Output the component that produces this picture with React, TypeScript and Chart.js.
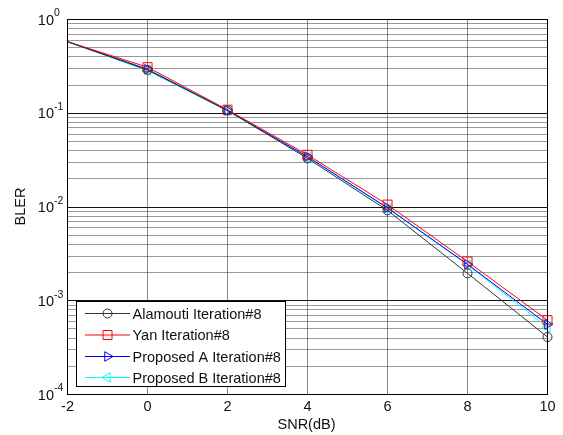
import React, { useEffect, useRef } from 'react';
import { Chart, registerables } from 'chart.js';

Chart.register(...registerables);

const snr = [-2, 0, 2, 4, 6, 8, 10];
const alamouti = [0.58, 0.29, 0.107, 0.033, 0.0092, 0.00196, 0.00041];
const yan = [0.58, 0.31, 0.109, 0.036, 0.0106, 0.00262, 0.00062];
const proposedA = [0.58, 0.295, 0.107, 0.0345, 0.0098, 0.00245, 0.00056];
const proposedB = [0.58, 0.285, 0.106, 0.034, 0.0097, 0.00242, 0.00052];

const xTicks = [-2, 0, 2, 4, 6, 8, 10];
const yDecades = [-4, -3, -2, -1, 0];
const seriesNames = ['Alamouti Iteration#8', 'Yan Iteration#8', 'Proposed A Iteration#8', 'Proposed B Iteration#8'];
const seriesColors = ['#333333', '#ff0000', '#0000ff', '#00ffff'];
const xTitle = 'SNR(dB)';
const yTitle = 'BLER';

const FONT = 'Arial, "Liberation Sans", sans-serif';

function drawMarker(ctx: CanvasRenderingContext2D, kind: number, x: number, y: number) {
  ctx.beginPath();
  if (kind === 0) {
    ctx.arc(x, y, 4.5, 0, Math.PI * 2);
  } else if (kind === 1) {
    ctx.rect(x - 4.5, y - 4.5, 9, 9);
  } else {
    const r = 5.5;
    const dir = kind === 2 ? 1 : -1;
    ctx.moveTo(x + dir * r, y);
    ctx.lineTo(x - dir * r * 0.5, y - r * 0.866);
    ctx.lineTo(x - dir * r * 0.5, y + r * 0.866);
    ctx.closePath();
  }
  ctx.stroke();
}

const decor = {
  id: 'decor',
  beforeDatasetsDraw(chart: any) {
    const { ctx, chartArea: a, scales } = chart;
    const xs = scales.x;
    const ys = scales.y;
    ctx.save();
    // vertical grid
    ctx.strokeStyle = '#8c8c8c';
    ctx.lineWidth = 1;
    xTicks.forEach((t) => {
      const px = Math.round(xs.getPixelForValue(t) - 0.5) + 0.5;
      ctx.beginPath();
      ctx.moveTo(px, a.top);
      ctx.lineTo(px, a.bottom);
      ctx.stroke();
    });
    // horizontal grid
    for (let e = -4; e < 0; e++) {
      for (let m = 1; m <= 9; m++) {
        const v = m * Math.pow(10, e);
        const py = Math.round(ys.getPixelForValue(v) - 0.5) + 0.5;
        ctx.beginPath();
        if (m === 1) {
          ctx.setLineDash([]);
          ctx.strokeStyle = '#111111';
        } else {
          ctx.setLineDash([1, 1]);
          ctx.strokeStyle = '#333333';
        }
        ctx.moveTo(a.left, py);
        ctx.lineTo(a.right, py);
        ctx.stroke();
      }
    }
    ctx.restore();
  },
  afterDatasetsDraw(chart: any) {
    const { ctx, chartArea: a, scales } = chart;
    const xs = scales.x;
    const ys = scales.y;
    ctx.save();
    ctx.setLineDash([]);
    // box
    ctx.strokeStyle = '#000000';
    ctx.lineWidth = 1;
    ctx.strokeRect(a.left, a.top, a.right - a.left, a.bottom - a.top);

    // x tick labels
    ctx.fillStyle = '#111111';
    ctx.font = `14.5px ${FONT}`;
    ctx.textAlign = 'center';
    ctx.textBaseline = 'middle';
    xTicks.forEach((t) => {
      ctx.fillText(String(t), xs.getPixelForValue(t), 406.5);
    });

    // y tick labels with superscripts
    yDecades.forEach((e) => {
      const py = ys.getPixelForValue(Math.pow(10, e));
      ctx.font = `14.5px ${FONT}`;
      ctx.textAlign = 'right';
      ctx.textBaseline = 'middle';
      ctx.fillText('10', 54, py + 1);
      ctx.font = `10.5px ${FONT}`;
      ctx.textAlign = 'left';
      ctx.fillText(String(e), 54, py - 6);
    });

    // axis titles
    ctx.font = `14.5px ${FONT}`;
    ctx.textAlign = 'center';
    ctx.textBaseline = 'middle';
    ctx.fillText(xTitle, 306.5, 425);
    ctx.save();
    ctx.translate(20.5, 206.5);
    ctx.rotate(-Math.PI / 2);
    ctx.fillText(yTitle, 0, 0);
    ctx.restore();

    // legend
    const lx = 76.5, ly = 301.5, lw = 209, lh = 85;
    ctx.fillStyle = '#ffffff';
    ctx.fillRect(lx, ly, lw, lh);
    ctx.strokeStyle = '#000000';
    ctx.strokeRect(lx, ly, lw, lh);
    const rows = [313.5, 335, 356.5, 377.5];
    seriesNames.forEach((name, i) => {
      const y = rows[i];
      ctx.strokeStyle = seriesColors[i];
      ctx.lineWidth = 1;
      ctx.beginPath();
      ctx.moveTo(85, y);
      ctx.lineTo(130, y);
      ctx.stroke();
      drawMarker(ctx, i, 107.5, y);
      ctx.fillStyle = '#111111';
      ctx.font = `14.5px ${FONT}`;
      ctx.textAlign = 'left';
      ctx.textBaseline = 'middle';
      ctx.fillText(name, 132.5, y + 1);
    });
    ctx.restore();
  },
};

const seriesData = [alamouti, yan, proposedA, proposedB];
const pointStyles = ['circle', 'rect', 'triangle', 'triangle'];
const pointRotations = [0, 0, 90, -90];
const pointRadii = [4.5, 6.4, 5.5, 5.5];

export default function App() {
  const ref = useRef<HTMLCanvasElement | null>(null);
  useEffect(() => {
    if (!ref.current) return;
    const chart = new Chart(ref.current, {
      type: 'line',
      data: {
        datasets: seriesData.map((vals, i) => ({
          label: seriesNames[i],
          data: snr.map((x, j) => ({ x, y: vals[j] })),
          borderColor: seriesColors[i],
          backgroundColor: 'rgba(0,0,0,0)',
          borderWidth: 1,
          pointStyle: pointStyles[i] as any,
          pointRotation: pointRotations[i],
          pointRadius: snr.map((_, j) => (j === 0 ? 0 : pointRadii[i])),
          pointBorderWidth: 1,
          pointBorderColor: seriesColors[i],
          pointBackgroundColor: 'rgba(0,0,0,0)',
          tension: 0,
          fill: false,
          clip: false as any,
        })),
      },
      options: {
        animation: false,
        responsive: true,
        maintainAspectRatio: false,
        layout: { padding: { left: 67.5, right: 15.5, top: 19.5, bottom: 40.5 } },
        plugins: { legend: { display: false }, tooltip: { enabled: false } },
        scales: {
          x: { type: 'linear', min: -2, max: 10, display: false },
          y: { type: 'logarithmic', min: 1e-4, max: 1, display: false },
        },
      },
      plugins: [decor],
    });
    return () => chart.destroy();
  }, []);
  return (
    <div style={{ position: 'absolute', left: 0, top: 0, width: 563, height: 435, background: '#fff' }}>
      <canvas ref={ref} />
    </div>
  );
}
